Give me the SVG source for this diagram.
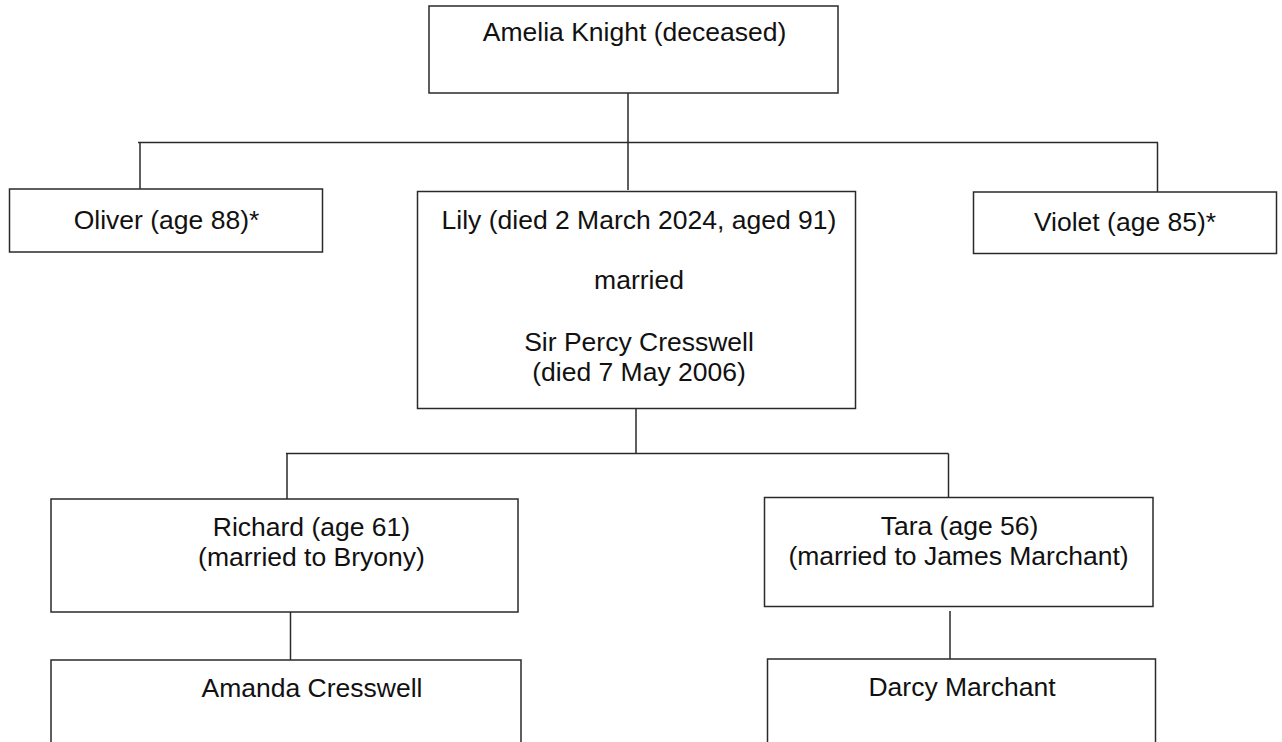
<svg xmlns="http://www.w3.org/2000/svg" width="1282" height="742" viewBox="0 0 1282 742">
<style>
.box{fill:#fff;stroke:#2a2a2a;stroke-width:1.5}
.ln{stroke:#2a2a2a;stroke-width:1.5;fill:none}
text{font-family:"Liberation Sans",Arial,sans-serif;font-size:26.5px;fill:#111;text-anchor:middle}
</style>
<rect width="1282" height="742" fill="#fff"/>
<g id="connectors">
<line class="ln" x1="628" y1="93" x2="628" y2="190"/>
<line class="ln" x1="138" y1="142.5" x2="1158" y2="142.5"/>
<line class="ln" x1="140" y1="142.5" x2="140" y2="189"/>
<line class="ln" x1="1157.5" y1="142.5" x2="1157.5" y2="192"/>
<line class="ln" x1="636" y1="408" x2="636" y2="453.5"/>
<line class="ln" x1="286" y1="453.5" x2="948.5" y2="453.5"/>
<line class="ln" x1="287" y1="453.5" x2="287" y2="499"/>
<line class="ln" x1="948.5" y1="453.5" x2="948.5" y2="497.5"/>
<line class="ln" x1="290.5" y1="612" x2="290.5" y2="660"/>
<line class="ln" x1="950" y1="611" x2="950" y2="659"/>
</g>
<g id="amelia">
<rect class="box" x="429" y="6" width="409" height="87"/>
<text x="634.5" y="41">Amelia Knight (deceased)</text>
</g>
<g id="oliver">
<rect class="box" x="9.5" y="189" width="313" height="63"/>
<text x="166.5" y="229">Oliver (age 88)*</text>
</g>
<g id="lily">
<rect class="box" x="417.5" y="191.5" width="438" height="217"/>
<text x="639" y="228.5">Lily (died 2 March 2024, aged 91)</text>
<text x="639" y="289">married</text>
<text x="639" y="350.5">Sir Percy Cresswell</text>
<text x="639" y="381">(died 7 May 2006)</text>
</g>
<g id="violet">
<rect class="box" x="973.5" y="192" width="303" height="61.5"/>
<text x="1125" y="231">Violet (age 85)*</text>
</g>
<g id="richard">
<rect class="box" x="51" y="499" width="467" height="113"/>
<text x="311.5" y="536">Richard (age 61)</text>
<text x="311.5" y="566">(married to Bryony)</text>
</g>
<g id="tara">
<rect class="box" x="764.5" y="497.5" width="388.5" height="109"/>
<text x="959.5" y="535">Tara (age 56)</text>
<text x="958.5" y="565">(married to James Marchant)</text>
</g>
<g id="amanda">
<rect class="box" x="51" y="660" width="470" height="100"/>
<text x="312" y="697">Amanda Cresswell</text>
</g>
<g id="darcy">
<rect class="box" x="767.5" y="659" width="388" height="100"/>
<text x="962" y="696">Darcy Marchant</text>
</g>
</svg>
